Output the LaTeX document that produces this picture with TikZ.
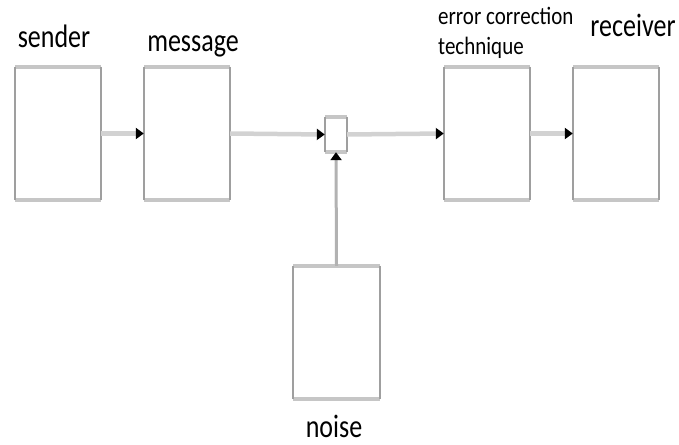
\documentclass[tikz,border=0pt]{standalone}
\usepackage{graphicx}
\usepackage{fontspec}
\setmainfont{Carlito}
\usetikzlibrary{arrows.meta}

\newcommand{\tallText}[1]{\scalebox{1}[1.25]{#1}}
\newcommand{\wideTallText}[1]{\scalebox{1.05}[1.25]{#1}}

\tikzset{
  block/.style={draw=none, fill=white, inner sep=0pt, minimum width=86pt, minimum height=133pt},
  junction/.style={draw=none, fill=white, inner sep=0pt, minimum width=22pt, minimum height=35pt},
  sideedge/.style={draw=gray!75, line width=2pt},
  capedge/.style={draw=gray!45, line width=4pt},
  tip/.style={-{Triangle[length=8pt, width=11pt, color=black]}},
  link/.style={draw=gray!35, line width=4.5pt, tip},
  biglabel/.style={font=\fontsize{26}{30}\selectfont, anchor=base, inner sep=0pt},
  smalllabel/.style={font=\fontsize{20}{24}\selectfont, anchor=base west, inner sep=0pt},
}

\begin{document}
\begin{tikzpicture}[x=1pt, y=-1pt]
  \useasboundingbox (0,0) rectangle (679,444);

  % blocks
  \node[block] (sender)   at (58,133.5)  {};
  \node[block] (message)  at (187,133.5) {};
  \node[junction] (mix)   at (336,134.5) {};
  \node[block] (ecc)      at (487,133.5) {};
  \node[block] (receiver) at (616,133.5) {};
  \node[block] (noise)    at (336.5,332.5) {};

  % block outlines: darker sides, lighter heavy top and bottom
  \foreach \b in {sender,message,mix,ecc,receiver,noise}{
    \draw[capedge] (\b.north west) -- (\b.north east);
    \draw[capedge] (\b.south west) -- (\b.south east);
    \draw[sideedge] (\b.north west) -- (\b.south west);
    \draw[sideedge] (\b.north east) -- (\b.south east);
  }

  % connectors
  \draw[link] (sender.east)  -- (message.west);
  \draw[link] (message.east) -- (mix.west);
  \draw[link] (mix.east)     -- (ecc.west);
  \draw[link] (ecc.east)     -- (receiver.west);
  \draw[draw=gray!60, line width=3pt, tip] (noise.north) -- (mix.south);

  % labels
  \node[biglabel] (senderlbl)   at (54,48)  {\tallText{sender}};
  \node[biglabel] (messagelbl)  at (193,52) {\tallText{message}};
  \node[biglabel] (receiverlbl) at (633,37) {\tallText{receiver}};
  \node[biglabel] (noiselbl)    at (334,437) {\tallText{noise}};
  \node[smalllabel] (ecclbl1) at (438,25) {\wideTallText{error correction}};
  \node[smalllabel] (ecclbl2) at (438,55) {\wideTallText{technique}};
\end{tikzpicture}
\end{document}
